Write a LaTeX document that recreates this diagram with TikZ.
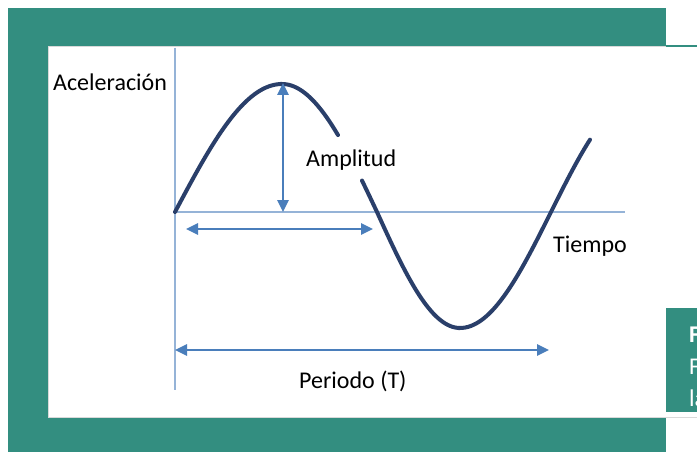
\documentclass[tikz,border=0pt]{standalone}
\usepackage{fontspec}
\setmainfont{Carlito}
\usetikzlibrary{arrows.meta}
\definecolor{teal1}{HTML}{338E80}
\definecolor{axiscol}{HTML}{95B3D7}
\definecolor{arrcol}{HTML}{4A7EBB}
\definecolor{curvecol}{HTML}{2A3F6A}
\tikzset{
  lbl/.style={inner sep=0pt, anchor=base west, font=\fontsize{24}{28}\selectfont, text=black},
  boxlbl/.style={inner sep=0pt, anchor=base west, font=\fontsize{24}{28}\selectfont, text=white},
  axisline/.style={draw=axiscol, line width=2pt},
  dimarrow/.style={draw=arrcol, line width=2.5pt, {Triangle[length=12pt,width=11pt]}-{Triangle[length=12pt,width=11pt]}},
  wave/.style={draw=curvecol, line width=4pt, line cap=round}
}
\begin{document}
\begin{tikzpicture}[x=1pt,y=-1pt]
\useasboundingbox (0,0) rectangle (697,452);
% frame
\fill[teal1] (8,8) rectangle (666,452);
\filldraw[fill=white, draw=gray!30, line width=0.8pt] (48,46) rectangle (698,417);
\draw[teal1, line width=1.5pt] (666,46) -- (697,46);
\fill[teal1] (666,308) rectangle (697,412);
\begin{scope}
\clip (666,308) rectangle (697,412);
\node[boxlbl, font=\fontsize{24}{28}\selectfont\bfseries] (f1) at (689,342) {F};
\node[boxlbl] (f2) at (689,374) {F};
\node[boxlbl] (f3) at (689,406) {la};
\end{scope}
% axes
\coordinate (o) at (175,212);
\coordinate (ytop) at (175,48);
\coordinate (ybot) at (175,390);
\coordinate (xend) at (625,212);
\draw[axisline] (ytop) -- (ybot);
\draw[axisline] (o) -- (xend);
% wave
\draw[wave] plot[domain=175:282, samples=40, smooth] (\x,{212-128*sin((\x-175)/107*90)})
  -- plot[domain=282:338, samples=25, smooth] (\x,{84+128*(1-cos((\x-282)/95*90))});
\draw[wave] plot[domain=362:377, samples=8, smooth] (\x,{84+128*(1-cos((\x-282)/95*90))})
  -- plot[domain=377:460, samples=35, smooth] (\x,{212+116*sin((\x-377)/83*90)})
  -- plot[domain=460:590, samples=50, smooth] (\x,{212+116*cos((\x-460)/91*90)});
% dimension arrows
\coordinate (ampTop) at (283,83);
\coordinate (ampBot) at (283,212);
\coordinate (halfL) at (186,229);
\coordinate (halfR) at (373,229);
\coordinate (perL) at (175,350);
\coordinate (perR) at (549,350);
\draw[dimarrow] (ampTop) -- (ampBot);
\draw[dimarrow] (halfL) -- (halfR);
\draw[dimarrow] (perL) -- (perR);
% labels
\node[lbl] (acel) at (53,91) {Aceleración};
\node[lbl] (amp) at (306,166) {Amplitud};
\node[lbl] (tiempo) at (553,252) {Tiempo};
\node[lbl] (periodo) at (299,388) {Periodo (T)};
\end{tikzpicture}
\end{document}
